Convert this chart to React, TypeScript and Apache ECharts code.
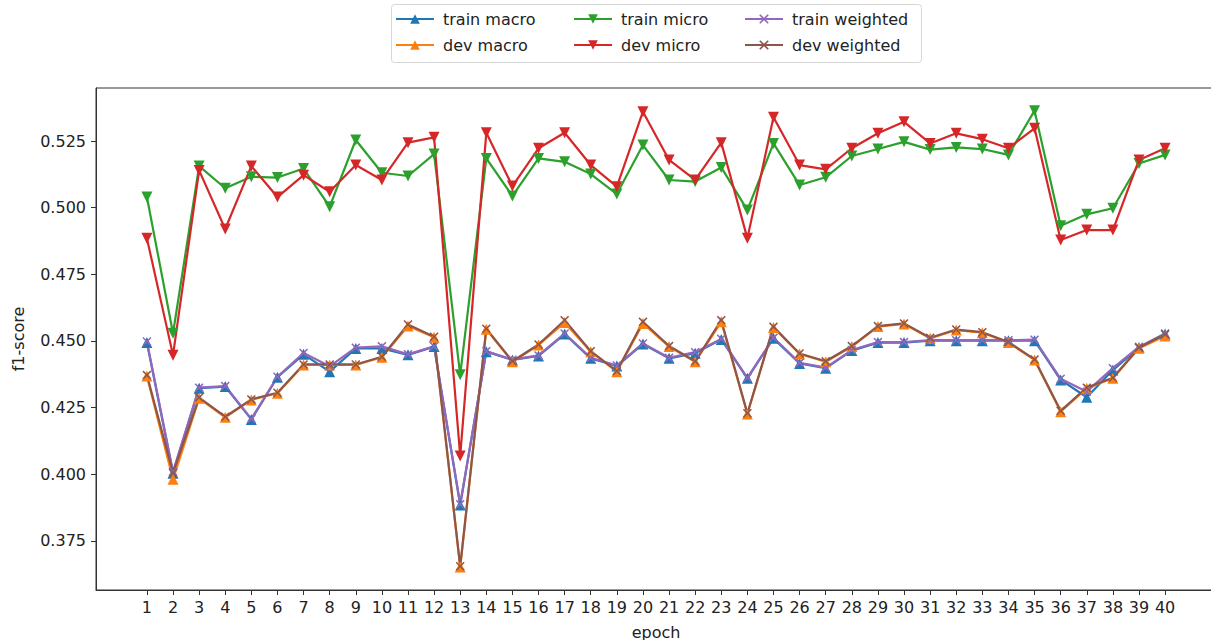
import React, { useEffect, useRef } from "react";
import * as echarts from "echarts";

const epochs = Array.from({ length: 40 }, (_, i) => i + 1);
const yTicks = [0.375, 0.4, 0.425, 0.45, 0.475, 0.5, 0.525];

const trainMacro = [0.4494, 0.4004, 0.4323, 0.4329, 0.4206, 0.4364, 0.445, 0.4385, 0.4472, 0.4472, 0.4448, 0.4479, 0.3885, 0.446, 0.4429, 0.4444, 0.4526, 0.4435, 0.4406, 0.4489, 0.4435, 0.4454, 0.4506, 0.436, 0.451, 0.4416, 0.4398, 0.4464, 0.4494, 0.4494, 0.4501, 0.4501, 0.4501, 0.4501, 0.4501, 0.4354, 0.4289, 0.4391, 0.4476, 0.4526];
const devMacro = [0.4369, 0.3981, 0.4285, 0.4214, 0.4279, 0.4304, 0.441, 0.441, 0.441, 0.4439, 0.4556, 0.4514, 0.3652, 0.4544, 0.4422, 0.4485, 0.4569, 0.446, 0.4385, 0.4566, 0.4479, 0.4422, 0.4572, 0.4226, 0.4551, 0.4451, 0.4422, 0.4479, 0.4554, 0.4564, 0.451, 0.4541, 0.4531, 0.4494, 0.4429, 0.4235, 0.4323, 0.436, 0.4473, 0.4519];
const trainMicro = [0.504, 0.4529, 0.5156, 0.5073, 0.5116, 0.5113, 0.5147, 0.5004, 0.5254, 0.5131, 0.5119, 0.5201, 0.4373, 0.5185, 0.5044, 0.5185, 0.5172, 0.5126, 0.5051, 0.5235, 0.5104, 0.5098, 0.5151, 0.4991, 0.5241, 0.5085, 0.5114, 0.5194, 0.522, 0.5247, 0.5218, 0.5226, 0.522, 0.5198, 0.5364, 0.4932, 0.4975, 0.4998, 0.5166, 0.5198];
const devMicro = [0.4885, 0.4447, 0.514, 0.492, 0.5156, 0.504, 0.5122, 0.506, 0.516, 0.5104, 0.5244, 0.5264, 0.4069, 0.5281, 0.5081, 0.5223, 0.5281, 0.516, 0.5079, 0.536, 0.5179, 0.5104, 0.5244, 0.4885, 0.5339, 0.516, 0.5144, 0.5223, 0.5279, 0.5322, 0.5241, 0.5279, 0.5257, 0.5223, 0.5298, 0.4879, 0.4916, 0.4916, 0.5179, 0.5223];
const trainWeighted = [0.4498, 0.401, 0.4325, 0.4331, 0.4208, 0.4366, 0.4455, 0.4405, 0.4475, 0.448, 0.445, 0.448, 0.3888, 0.4462, 0.443, 0.4446, 0.4528, 0.4437, 0.4408, 0.4491, 0.4437, 0.4458, 0.4508, 0.4362, 0.4512, 0.4418, 0.44, 0.4466, 0.4496, 0.4496, 0.4503, 0.4503, 0.4503, 0.4503, 0.4505, 0.4358, 0.431, 0.4398, 0.4478, 0.4528];
const devWeighted = [0.4372, 0.4005, 0.4288, 0.4216, 0.4281, 0.4306, 0.4412, 0.4412, 0.4412, 0.4441, 0.4562, 0.4516, 0.3655, 0.4546, 0.4424, 0.4487, 0.4578, 0.4462, 0.4387, 0.4572, 0.4481, 0.4424, 0.4578, 0.4229, 0.4553, 0.4453, 0.4424, 0.4481, 0.4556, 0.4566, 0.4512, 0.4543, 0.4533, 0.4496, 0.4431, 0.4238, 0.4325, 0.4362, 0.4475, 0.4525];

const FONT = "DejaVu Sans";
const TEXT = "#222";
const AXIS = "#333";
const triDown = "path://M0,0 L10,0 L5,9 Z";
const xMark = "path://M0,1.2 L1.2,0 L5,3.8 L8.8,0 L10,1.2 L6.2,5 L10,8.8 L8.8,10 L5,6.2 L1.2,10 L0,8.8 L3.8,5 Z";

const seriesDefs = [
  { name: "train macro", data: trainMacro, color: "#1f77b4", symbol: "triangle", size: 11 },
  { name: "dev macro", data: devMacro, color: "#ff7f0e", symbol: "triangle", size: 11 },
  { name: "train micro", data: trainMicro, color: "#2ca02c", symbol: triDown, size: 11 },
  { name: "dev micro", data: devMicro, color: "#d62728", symbol: triDown, size: 11 },
  { name: "train weighted", data: trainWeighted, color: "#9467bd", symbol: xMark, size: 9 },
  { name: "dev weighted", data: devWeighted, color: "#8c564b", symbol: xMark, size: 9 },
];

const legendPos = [
  { name: "train macro", left: 395, top: 11 },
  { name: "dev macro", left: 395, top: 37 },
  { name: "train micro", left: 573, top: 11 },
  { name: "dev micro", left: 573, top: 37 },
  { name: "train weighted", left: 744, top: 11 },
  { name: "dev weighted", left: 744, top: 37 },
];

export default function App() {
  const ref = useRef<HTMLDivElement>(null);
  useEffect(() => {
    if (!ref.current) return;
    const chart = echarts.init(ref.current, null, { renderer: "svg" });
    chart.setOption({
      animation: false,
      backgroundColor: "#fff",
      textStyle: { fontFamily: FONT },
      graphic: [
        {
          type: "rect",
          z: 0,
          shape: { x: 391.5, y: 4.5, width: 530, height: 58, r: 3 },
          style: { fill: "#fff", stroke: "#d6d6d6", lineWidth: 1 },
        },
      ],
      legend: legendPos.map((l) => ({
        data: [l.name],
        left: l.left,
        top: l.top,
        itemWidth: 38,
        itemHeight: 12,
        padding: 0,
        z: 10,
        selectedMode: false,
        textStyle: { fontFamily: FONT, fontSize: 16, color: TEXT, padding: [0, 0, 0, 4] },
      })),
      grid: {
        left: 96,
        top: 88,
        width: 1120,
        height: 502,
        outerBoundsMode: "none",
        containLabel: false,
        show: true,
        borderColor: AXIS,
        borderWidth: 1,
        backgroundColor: "transparent",
      },
      xAxis: {
        type: "value",
        position: "bottom",
        min: -0.95,
        max: 41.95,
        name: "epoch",
        nameLocation: "middle",
        nameGap: 34,
        nameTextStyle: { fontFamily: FONT, fontSize: 16, color: TEXT },
        axisLine: { show: true, onZero: false, lineStyle: { color: AXIS, width: 1 } },
        splitLine: { show: false },
        axisTick: { show: true, inside: false, customValues: epochs, length: 5, lineStyle: { color: AXIS } },
        axisLabel: {
          customValues: epochs,
          margin: 9,
          fontFamily: FONT,
          fontSize: 16,
          color: TEXT,
          formatter: (v: number) => String(Math.round(v)),
        },
      },
      yAxis: {
        type: "value",
        position: "left",
        min: 0.3566,
        max: 0.5449,
        name: "f1-score",
        nameLocation: "middle",
        nameGap: 70,
        nameTextStyle: { fontFamily: FONT, fontSize: 16, color: TEXT },
        axisLine: { show: true, onZero: false, lineStyle: { color: AXIS, width: 1 } },
        splitLine: { show: false },
        axisTick: { show: true, inside: false, customValues: yTicks, length: 5, lineStyle: { color: AXIS } },
        axisLabel: {
          customValues: yTicks,
          margin: 10,
          fontFamily: FONT,
          fontSize: 16,
          color: TEXT,
          formatter: (v: number) => v.toFixed(3),
        },
      },
      series: seriesDefs.map((s) => ({
        name: s.name,
        type: "line",
        data: s.data.map((v, i) => [epochs[i], v]),
        symbol: s.symbol,
        symbolSize: s.size,
        showAllSymbol: true,
        color: s.color,
        lineStyle: { color: s.color, width: 2.2 },
        itemStyle: { color: s.color },
        emphasis: { disabled: true },
      })),
    });
    return () => chart.dispose();
  }, []);
  return (
    <div
      ref={ref}
      style={{ position: "fixed", left: 0, top: 0, width: 1211, height: 640, background: "#fff" }}
    />
  );
}
